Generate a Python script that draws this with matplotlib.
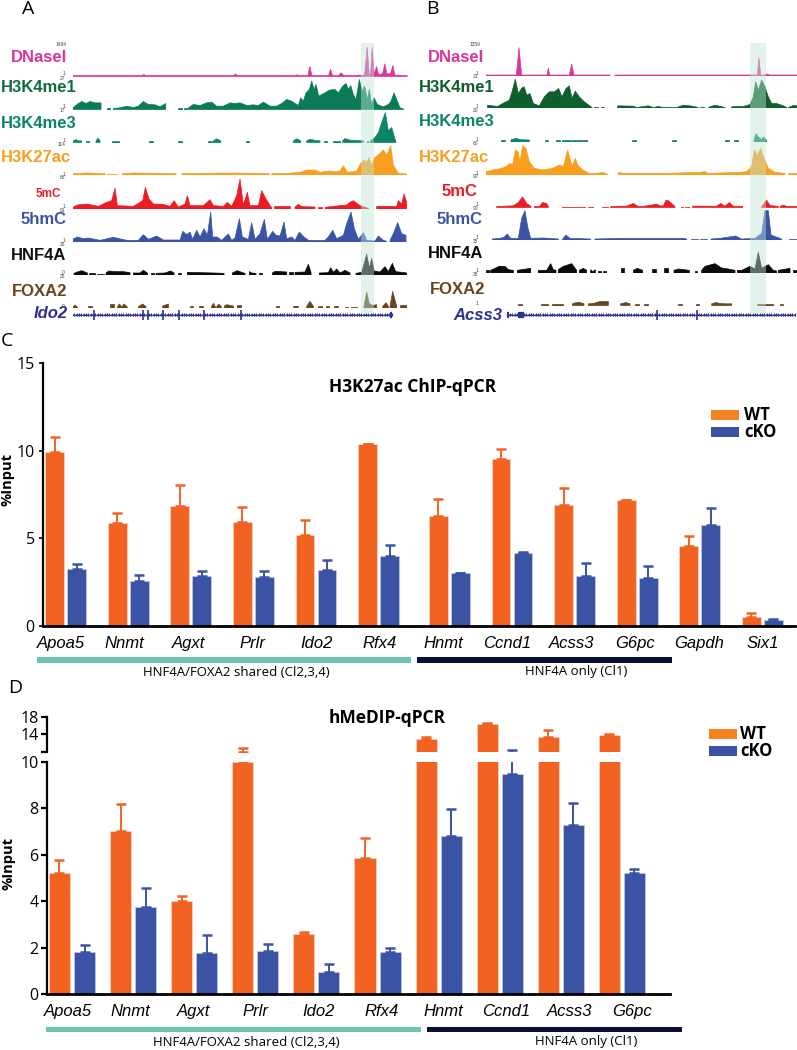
import numpy as np
import matplotlib
matplotlib.use("Agg")
import matplotlib.pyplot as plt
from matplotlib.patches import Rectangle

W, H = 797, 1050
n = np.nan

plt.rcParams["font.family"] = ["Open Sans", "DejaVu Sans"]

# browser tracks, panel A: position along the locus / signal height
a_dnase_x = [218, 425, 430, 435, 450, 455, 460, 700, 705, 710, 850, 855, 860, 884, 890, 895, 922, 928, 934, 984, 990, 996, 1014, 1022, 1030, 1092, 1100, 1106, 1110, 1115, 1121, 1128, 1134, 1146, 1153, 1159, 1170, 1177, 1183, 1220]
a_dnase_h = [3, 3, 6, 3, 3, 4, 3, 3, 8, 3, 3, 4, 3, 3, 5, 3, 3, 30, 3, 3, 22, 3, 3, 11, 3, 4, 88, 6, 6, 88, 6, 30, 6, 8, 38, 8, 8, 33, 4, 3]
a_me1_x = [218, 232, 245, 258, 270, 285, 303, n, 320, 330, n, 340, 360, 380, 400, 415, 430, 445, 465, 480, 497, n, 535, 545, n, 553, 560, n, 565, 580, 600, 620, 635, 650, 670, 690, 705, 720, 740, 760, 775, 790, 810, 830, 845, 860, 875, 885, 895, 902, 910, 918, 928, 935, 942, 948, 956, 965, 975, 988, 1005, 1015, 1028, 1038, 1046, 1052, 1060, 1068, 1078, 1086, 1094, 1102, 1108, 1115, 1122, 1132, 1150, 1165, 1173, 1182, 1190, 1200, 1210]
a_me1_h = [4, 16, 24, 18, 24, 20, 20, n, 6, 6, n, 3, 5, 10, 6, 10, 24, 15, 14, 8, 18, n, 4, 4, n, 4, 4, n, 5, 15, 12, 20, 22, 10, 10, 20, 18, 20, 12, 14, 12, 22, 10, 10, 18, 30, 25, 18, 12, 35, 25, 50, 60, 85, 60, 75, 40, 45, 50, 58, 60, 50, 70, 78, 60, 72, 45, 30, 90, 55, 70, 30, 60, 15, 35, 15, 8, 15, 25, 50, 30, 5, 2]
a_me3_x = [220, 228, 234, 245, n, 258, 268, n, 288, 294, 300, n, 335, 358, n, 448, 458, n, 534, 545, n, 625, 635, n, 640, 650, 662, n, 738, 748, n, 880, 890, 902, n, 920, 932, 945, 960, n, 972, 982, n, 1000, 1020, n, 1028, 1035, 1050, 1070, 1090, n, 1100, 1105, n, 1110, 1125, 1135, 1145, 1156, 1165, 1175, 1185, 1188]
a_me3_h = [5, 9, 5, 5, n, 5, 5, n, 5, 13, 5, n, 5, 5, n, 5, 5, n, 5, 5, n, 5, 5, n, 5, 11, 5, n, 5, 5, n, 5, 11, 5, n, 5, 10, 6, 5, n, 5, 5, n, 5, 5, n, 5, 12, 7, 6, 5, n, 5, 5, n, 4, 15, 30, 60, 90, 35, 45, 10, 2]
a_k27_x = [218, 260, 315, n, 322, 352, n, 367, 400, 460, 528, n, 546, 620, 700, 808, n, 815, 860, 900, 920, 945, 960, 985, 1005, 1020, 1030, 1042, 1070, 1082, 1092, 1100, 1107, 1115, 1122, 1140, 1150, 1160, 1172, 1180, 1195, 1220]
a_k27_h = [4, 6, 4, n, 4, 4, n, 4, 6, 5, 4, n, 4, 5, 6, 4, n, 4, 5, 8, 15, 15, 8, 12, 10, 12, 28, 8, 12, 35, 45, 38, 52, 30, 50, 65, 75, 60, 88, 30, 5, 3]
a_5mc_x = [218, 232, 260, 295, 320, 335, 345, 352, 400, 428, 436, 447, 460, 490, 510, 522, 535, 555, 562, 570, 610, 630, 640, 670, 682, 695, 710, 720, 730, 742, 750, 775, 785, 798, 815, n, 822, 870, n, 885, 895, 905, 945, n, 955, 965, n, 975, 1020, 1040, 1050, 1060, 1080, 1105, n, 1130, 1190, 1195, 1205, 1212, 1220]
a_5mc_h = [5, 12, 15, 8, 20, 25, 62, 10, 8, 25, 65, 30, 15, 14, 8, 25, 6, 15, 40, 10, 10, 28, 10, 8, 20, 8, 40, 90, 12, 50, 10, 10, 55, 30, 3, n, 8, 8, n, 6, 14, 7, 6, n, 7, 7, n, 5, 10, 12, 20, 25, 10, 2, n, 8, 8, 25, 15, 45, 20]
a_5hmc_x = [218, 232, 250, 265, 300, 340, 380, 415, 430, 445, 470, 490, 540, 548, 560, 570, 578, 590, 600, 612, 622, 632, 638, 652, 665, 685, 695, 705, 718, 727, 745, 755, 765, 780, 793, 802, 818, 828, 840, 852, 860, 875, 885, 898, 912, 925, 975, 985, 998, 1010, 1030, 1040, 1053, 1063, 1075, 1090, 1100, 1125, 1135, 1150, 1160, n, 1170, 1180, 1193, 1205, 1218]
a_5hmc_h = [8, 15, 10, 12, 5, 14, 5, 5, 22, 8, 18, 6, 6, 32, 22, 30, 8, 35, 15, 40, 20, 90, 15, 15, 5, 24, 5, 12, 70, 15, 8, 58, 8, 25, 68, 8, 32, 20, 18, 60, 10, 15, 5, 30, 15, 5, 5, 15, 35, 10, 20, 55, 90, 40, 8, 28, 5, 3, 18, 5, 2, n, 5, 25, 58, 25, 20]
a_hnf_x = [222, 232, 245, 255, 262, n, 268, 285, n, 292, 312, n, 318, 326, 345, 370, 390, n, 400, 420, 430, 442, n, 452, 462, n, 468, 495, 512, 522, n, 535, 542, n, 562, 600, 640, 672, n, 697, 712, 725, 735, n, 748, 755, 768, n, 778, 787, n, 817, 825, 860, n, 868, 878, n, 885, 915, 925, 933, n, 958, 985, 992, 1000, 1010, 1020, 1035, 1050, n, 1068, 1085, 1100, 1108, 1115, 1122, 1140, 1155, 1165, 1177, 1187, 1205, 1220]
a_hnf_h = [5, 9, 13, 9, 6, n, 5, 5, n, 4, 4, n, 6, 12, 10, 10, 7, n, 6, 6, 14, 6, n, 5, 5, n, 5, 6, 12, 6, n, 5, 5, n, 8, 7, 6, 5, n, 6, 13, 8, 5, n, 10, 6, 5, n, 5, 5, n, 6, 11, 9, n, 10, 10, n, 8, 9, 32, 8, n, 6, 7, 22, 8, 18, 6, 14, 6, n, 5, 8, 62, 20, 50, 12, 9, 25, 10, 35, 10, 8, 6]
a_fox_x = [218, 225, 232, n, 264, 276, n, 331, 341, n, 352, 358, 365, 372, 382, n, 415, 428, 438, n, 488, 505, n, 570, 580, n, 596, 608, n, 634, 640, 646, n, 650, 656, 664, n, 673, 680, 700, n, 712, 722, n, 828, 838, n, 880, 895, n, 920, 930, 940, n, 955, 965, n, 978, 988, n, 1003, 1013, n, 1035, 1045, n, 1052, 1070, n, 1092, 1100, 1108, 1118, 1130, n, 1148, 1158, 1165, n, 1170, 1178, 1190, n, 1200, 1220]
a_fox_h = [2, 9, 2, n, 5, 5, n, 12, 12, n, 3, 12, 3, 12, 3, n, 4, 12, 4, n, 6, 12, n, 6, 6, n, 5, 5, n, 4, 14, 4, n, 4, 12, 4, n, 6, 10, 6, n, 10, 10, n, 5, 5, n, 5, 5, n, 5, 20, 5, n, 5, 5, n, 5, 5, n, 5, 5, n, 4, 4, n, 4, 4, n, 5, 48, 12, 8, 10, n, 5, 16, 5, n, 5, 50, 5, n, 9, 9]

# browser tracks, panel B
b_dnase_x = [258, 349, 357, 365, 441, 445, 449, 508, 515, 522, 630, n, 645, 1072, 1077, 1082, 1095, 1100, 1110, 1191]
b_dnase_h = [3, 3, 85, 3, 3, 24, 3, 3, 36, 3, 3, n, 3, 3, 55, 3, 3, 6, 3, 3]
b_me1_x = [263, 278, 293, 308, 328, 336, 346, 355, 366, 373, 380, 390, 400, 418, 433, 448, 463, 476, 486, 498, 508, 516, 526, 538, 553, 576, n, 583, 593, n, 603, 613, n, 653, 700, 710, 745, 760, 775, 790, 830, 850, 870, 895, n, 900, 912, n, 925, 945, 975, n, 995, 1010, 1030, 1050, 1060, 1067, 1075, 1085, 1095, 1105, 1115, 1130, 1150, 1160, n, 1165, 1180, 1191]
b_me1_h = [10, 8, 6, 15, 25, 50, 88, 45, 62, 65, 40, 45, 15, 8, 35, 50, 50, 60, 35, 60, 68, 30, 52, 35, 20, 3, n, 4, 4, n, 4, 4, n, 8, 7, 3, 8, 3, 6, 3, 3, 10, 8, 3, n, 4, 4, n, 3, 10, 3, n, 5, 6, 6, 12, 35, 80, 55, 85, 65, 35, 15, 15, 8, 3, n, 3, 9, 8]
b_me3_x = [303, 316, n, 333, 350, 360, 388, n, 435, 445, n, 467, 480, n, 487, 512, n, 515, 530, n, 535, 545, n, 550, 560, n, 697, 708, n, 816, 828, n, 975, 986, n, 1003, 1015, n, 1062, 1068, 1075, 1085, 1090, 1100]
b_me3_h = [7, 7, n, 7, 11, 7, 6, n, 7, 7, n, 7, 7, n, 6, 6, n, 6, 6, n, 6, 6, n, 6, 6, n, 7, 7, n, 7, 7, n, 6, 6, n, 6, 6, n, 5, 25, 15, 8, 15, 5]
b_k27_x = [258, 278, 298, 318, 330, 338, 346, 354, 360, 368, 378, 388, 403, 428, 458, 478, 490, 503, 510, 516, 526, 533, 548, 568, 588, 608, 623, n, 655, 670, 800, 900, 915, 925, 1020, 1040, 1055, 1063, 1072, 1082, 1092, 1105, 1125, 1155, n, 1165, 1191]
b_k27_h = [10, 15, 18, 25, 35, 30, 75, 70, 40, 88, 80, 40, 20, 15, 20, 30, 25, 75, 50, 25, 50, 30, 15, 5, 4, 8, 2, n, 8, 5, 5, 8, 10, 5, 8, 10, 25, 75, 60, 80, 50, 20, 8, 5, n, 5, 5]
b_5mc_x = [290, 340, 355, 368, 380, 393, n, 403, 418, 428, 440, 445, n, 485, 530, n, 535, 555, n, 565, 578, n, 607, 625, n, 632, 680, 700, 715, 735, 770, 780, 790, 798, 806, 825, n, 843, 850, n, 855, 868, n, 878, 950, 962, 975, 988, 1000, 1028, n, 1085, 1100, 1110, 1135, n, 1140, 1150, 1160, 1191]
b_5mc_h = [3, 5, 15, 32, 12, 3, n, 3, 3, 15, 12, 3, n, 2, 2, n, 3, 3, n, 3, 3, n, 3, 3, n, 3, 4, 12, 3, 4, 10, 5, 5, 22, 20, 3, n, 3, 3, n, 3, 3, n, 4, 4, 12, 4, 15, 4, 3, n, 3, 22, 6, 3, n, 3, 7, 3, 3]
b_5hmc_x = [277, 300, 312, 322, 332, 355, 365, 375, 383, 392, 430, 475, n, 488, 498, 510, 572, n, 585, 670, 730, 850, 860, n, 873, 895, n, 900, 922, n, 933, 960, 1007, 1025, 1065, 1085, 1095, 1105, 1113, 1145, n, 1168, 1191]
b_5hmc_h = [3, 5, 8, 18, 5, 5, 65, 88, 40, 5, 6, 3, n, 3, 15, 5, 3, n, 3, 5, 5, 5, 3, n, 3, 3, n, 3, 3, n, 3, 5, 12, 3, 5, 20, 88, 88, 15, 3, n, 3, 3]
b_hnf_x = [258, 268, n, 272, 285, 297, 315, 325, 340, n, 352, 392, n, 415, 440, 452, 460, 468, n, 475, 490, 515, 530, n, 538, 550, 560, n, 572, 578, 586, n, 595, 603, n, 610, 618, n, 662, 672, n, 700, 712, 728, n, 757, 768, n, 793, 803, n, 822, 835, 868, n, 885, 892, n, 905, 915, 945, 965, 985, 1005, n, 1012, 1025, 1040, 1050, 1065, 1075, 1085, 1105, 1120, 1130, n, 1135, 1170, n, 1178, 1191]
b_hnf_h = [8, 8, n, 8, 14, 20, 20, 10, 8, n, 8, 14, n, 8, 8, 28, 10, 8, n, 10, 20, 28, 8, n, 8, 14, 8, n, 10, 4, 10, n, 6, 6, n, 6, 6, n, 14, 14, n, 8, 14, 8, n, 12, 12, n, 14, 14, n, 8, 12, 8, n, 6, 6, n, 8, 20, 28, 15, 12, 8, n, 8, 8, 15, 20, 12, 62, 14, 25, 8, 6, n, 8, 14, n, 8, 8]
b_fox_x = [353, 365, n, 422, 445, n, 457, 488, n, 517, 530, 540, 552, n, 565, 580, 600, 625, n, 662, 678, 690, n, 705, 717, n, 732, 745, n, 835, 846, n, 888, 898, n, 935, 948, 960, 975, 995, n, 1072, 1120, n, 1140, 1150]
b_fox_h = [5, 5, n, 5, 5, n, 5, 5, n, 5, 9, 9, 5, n, 5, 6, 12, 12, n, 5, 9, 5, n, 5, 5, n, 5, 5, n, 5, 5, n, 5, 5, n, 5, 9, 6, 5, 5, n, 5, 5, n, 5, 5]

track_names = ["DNaseI", "H3K4me1", "H3K4me3", "H3K27ac", "5mC", "5hmC", "HNF4A", "FOXA2"]
track_colors = ["#d9359b", "#0b7a58", "#0b8468", "#f8a01e", "#ec1c24", "#3a53a4", "#0a0a0a", "#6a431c"]
b_track_colors = ["#d9359b", "#0f5f2e", "#0b8468", "#f8a01e", "#ec1c24", "#3a53a4", "#0a0a0a", "#6a431c"]
a_label_colors = ["#d9359b", "#0f6e3e", "#0b8468", "#f8a01e", "#ec1c24", "#3a53a4", "#111111", "#6a431c"]

a_exons = [283, 430, 445, 490, 538, 612, 723]
b_exons = [772, 890]

# qPCR, panel C
c_genes = ["Apoa5", "Nnmt", "Agxt", "Prlr", "Ido2", "Rfx4", "Hnmt", "Ccnd1", "Acss3", "G6pc", "Gapdh", "Six1"]
c_wt = [9.95, 5.9, 6.85, 5.95, 5.2, 10.38, 6.25, 9.55, 6.92, 7.17, 4.57, 0.53]
c_wt_top = [10.78, 6.47, 8.03, 6.8, 6.03, 10.4, 7.26, 10.08, 7.88, 7.17, 5.15, 0.72]
c_ko = [3.24, 2.58, 2.86, 2.78, 3.22, 3.98, 3.02, 4.19, 2.85, 2.76, 5.75, 0.32]
c_ko_top = [3.56, 2.93, 3.16, 3.14, 3.77, 4.63, 3.05, 4.2, 3.62, 3.41, 6.75, 0.42]

# qPCR, panel D
d_genes = ["Apoa5", "Nnmt", "Agxt", "Prlr", "Ido2", "Rfx4", "Hnmt", "Ccnd1", "Acss3", "G6pc"]
d_wt = [5.2, 7.03, 4.0, 10.0, 2.58, 5.86, 12.87, 16.26, 13.3, 13.77]
d_wt_top = [5.77, 8.2, 4.23, 10.98, 2.68, 6.7, 13.47, 16.6, 14.96, 14.07]
d_ko = [1.82, 3.74, 1.76, 1.85, 0.95, 1.82, 6.8, 9.47, 7.28, 5.23]
d_ko_top = [2.12, 4.56, 2.56, 2.15, 1.29, 2.0, 7.95, 10.45, 8.22, 5.39]

ORANGE = "#f26322"
BLUE = "#3a53a4"

fig = plt.figure(figsize=(W / 100, H / 100), dpi=100)


def px_axes(x0, y0, x1, y1, **kw):
    # axes from reference pixel box, y measured from the top
    return fig.add_axes([x0 / W, 1 - y1 / H, (x1 - x0) / W, (y1 - y0) / H], **kw)


def track(x0, x1, base, xs, hs, color, xlim):
    ax = px_axes(x0, base - 32, x1, base)
    ax.fill_between(xs, 0, hs, color=color, lw=0.5)
    ax.set_xlim(*xlim)
    ax.set_ylim(0, 96)
    ax.axis("off")
    return ax


a_tracks = [(a_dnase_x, a_dnase_h), (a_me1_x, a_me1_h), (a_me3_x, a_me3_h), (a_k27_x, a_k27_h),
            (a_5mc_x, a_5mc_h), (a_5hmc_x, a_5hmc_h), (a_hnf_x, a_hnf_h), (a_fox_x, a_fox_h)]
a_bases = [76, 109.5, 142.5, 175, 209, 242, 275, 308]
for (xs, hs), c, b in zip(a_tracks, track_colors, a_bases):
    track(72.7, 406.7, b, xs, hs, c, (218, 1220))

b_tracks = [(b_dnase_x, b_dnase_h), (b_me1_x, b_me1_h), (b_me3_x, b_me3_h), (b_k27_x, b_k27_h),
            (b_5mc_x, b_5mc_h), (b_5hmc_x, b_5hmc_h), (b_hnf_x, b_hnf_h), (b_fox_x, b_fox_h)]
b_bases = [76, 108.5, 142, 175, 207.5, 240, 273, 305.5]
for (xs, hs), c, b in zip(b_tracks, b_track_colors, b_bases):
    track(486, 797, b, xs, hs, c, (258, 1191))


def gene_track(x0, x1, xlim, start, end, exons, thick):
    ax = px_axes(x0, 308, x1, 322)
    ax.plot([start, end], [0, 0], color="#2e3192", lw=1)
    marks = np.arange(start, end, 7)
    ax.plot(marks, np.zeros(len(marks)), ls="", marker=4, ms=2.2, color="#2e3192", mew=0)
    ax.plot(exons, np.zeros(len(exons)), ls="", marker="|", ms=7, mew=1.2, color="#2e3192")
    for t0, t1 in thick:
        ax.plot([t0, t1], [0, 0], color="#2e3192", lw=4.5, solid_capstyle="butt")
    ax.set_xlim(*xlim)
    ax.set_ylim(-1, 1)
    ax.axis("off")


gene_track(72.7, 406.7, (218, 1220), 220, 1175, a_exons, [(1170, 1176)])
gene_track(486, 797, (258, 1191), 320, 1185, b_exons, [(320, 326), (355, 372)])


def bars(ax, xs, wt, wt_top, ko, ko_top, off, width, capsize):
    for vals, tops, o, c in [(wt, wt_top, -off, ORANGE), (ko, ko_top, off, BLUE)]:
        pos = np.asarray(xs) + o
        ax.bar(pos, vals, width, color=c, edgecolor="#f3d9cc" if c == ORANGE else "#c4cce4", lw=0.5)
        err = np.asarray(tops) - np.asarray(vals)
        ax.errorbar(pos, vals, yerr=[np.zeros(len(vals)), err], fmt="none", ecolor=c,
                    elinewidth=1.4, capsize=capsize, capthick=1.8)


# panel C
ax_c = px_axes(43, 363, 795, 626)
c_pos = np.arange(len(c_genes)) + 0.13 * (np.arange(len(c_genes)) >= 6)
bars(ax_c, c_pos, c_wt, c_wt_top, c_ko, c_ko_top, 0.175, 0.3, 3.4)
ax_c.set_xlim(-0.361, 11.65)
ax_c.set_ylim(0, 15)
ax_c.set_yticks([0, 5, 10, 15])
ax_c.set_xticks(np.arange(len(c_genes)) * 1.02 - 0.08)
ax_c.set_xticklabels(c_genes, style="italic", fontsize=12, family=["Liberation Sans"])
ax_c.tick_params(axis="x", length=0, pad=7)
ax_c.tick_params(axis="y", length=3, width=1.2, labelsize=11.5, pad=3)
ax_c.spines[["top", "right"]].set_visible(False)
ax_c.spines["left"].set_linewidth(1.6)
ax_c.spines["bottom"].set_linewidth(2)

# panel D, broken axis
ax_d = px_axes(47, 761.7, 669.6, 994)
ax_u = px_axes(47, 716.7, 669.6, 751.7)
d_pos = np.arange(len(d_genes))
d_xlim = (-0.409, 9.78)
for ax in (ax_d, ax_u):
    bars(ax, d_pos, d_wt, d_wt_top, d_ko, d_ko_top, 0.205, 0.345, 3.4)
    ax.set_xlim(*d_xlim)
    ax.spines[["top", "right"]].set_visible(False)
    ax.spines["left"].set_linewidth(1.6)
    ax.tick_params(axis="y", length=4, width=1.6, labelsize=11.5, pad=2)
ax_d.set_ylim(0, 10)
ax_u.set_ylim(10.08, 18)
ax_d.set_yticks([0, 2, 4, 6, 8, 10])
ax_u.set_yticks([10.08, 14, 18])
ax_u.set_yticklabels(["", "14", "18"])
ax_u.spines["bottom"].set_visible(False)
ax_u.set_xticks([])
ax_d.spines["bottom"].set_linewidth(2)
ax_d.set_xticks(d_pos * 1.025 - 0.065)
ax_d.set_xticklabels(d_genes, style="italic", fontsize=12, family=["Liberation Sans"])
ax_d.tick_params(axis="x", length=0, pad=7)

# overlay for labels, highlight bands, group bars, legends
ov = fig.add_axes([0, 0, 1, 1], facecolor="none")
ov.set_xlim(0, W)
ov.set_ylim(H, 0)
ov.axis("off")

ov.add_patch(Rectangle((361, 43), 13, 270, color="#bfe6d6", alpha=0.45, lw=0))
ov.add_patch(Rectangle((750, 43), 16, 270, color="#bfe6d6", alpha=0.45, lw=0))

a_label_xy = [(67, 58, "right"), (1, 88, "left"), (1, 123, "left"), (1, 158, "left"),
              (61, 194, "right"), (67, 220, "right"), (66, 255, "right"), (67, 291, "right")]
b_label_xy = [(484, 57, "right"), (419, 87, "left"), (419, 121, "left"), (419, 157, "left"),
              (477, 192, "right"), (483, 219, "right"), (483, 253, "right"), (485, 289, "right")]
for name, c, (x, y, ha) in zip(track_names, a_label_colors, a_label_xy):
    ov.text(x, y, name, color=c, ha=ha, va="center", fontsize=8.5 if name == "5mC" else 12,
            fontweight="semibold", family=["Liberation Sans"])
for name, c, (x, y, ha) in zip(track_names, b_track_colors, b_label_xy):
    ov.text(x, y, name, color=c, ha=ha, va="center", fontsize=12,
            fontweight="semibold", family=["Liberation Sans"])
ov.text(68, 314, "Ido2", color="#2e3192", ha="right", va="center", fontsize=12,
        style="italic", fontweight="bold", family=["Liberation Sans"])
ov.text(502, 315, "Acss3", color="#2e3192", ha="right", va="center", fontsize=12,
        style="italic", fontweight="bold", family=["Liberation Sans"])

for letter, x, y in [("A", 28, 9), ("B", 432, 9), ("C", 7, 341), ("D", 15, 688)]:
    ov.text(x, y, letter, ha="center", va="center", fontsize=14)

a_scale = [("1484", 67, 45), ("1", 65, 73.5), ("27", 65, 78), ("1", 65, 107), ("17", 65, 110.5),
           ("1", 65, 140), ("114", 65, 144), ("1", 65, 174), ("66", 65, 177.5), ("1", 65, 206),
           ("61", 65, 210), ("1", 65, 240), ("25", 65, 244), ("0", 65, 272.5), ("25", 65, 276),
           ("0", 65, 306)]
b_scale = [("1359", 480, 45), ("1", 478, 73.5), ("21", 478, 77), ("1", 478, 106), ("20", 478, 110),
           ("1", 478, 139.5), ("60", 478, 143.5), ("1", 478, 173.5), ("90", 478, 177), ("1", 478, 204.5),
           ("90", 478, 209), ("1", 478, 237.5), ("25", 478, 241.5), ("1", 478, 270), ("25", 478, 274.5),
           ("1", 478, 303.5)]
for t, x, y in a_scale + b_scale:
    ov.text(x, y, t, ha="right", va="center", fontsize=3.5, color="#444444",
            family=["Liberation Sans"])

ov.text(413, 387, "H3K27ac ChIP-qPCR", ha="center", va="center", fontsize=12.5, fontweight="bold")
ov.text(387, 718, "hMeDIP-qPCR", ha="center", va="center", fontsize=12.5, fontweight="bold")
ov.text(8, 480, "%Input", rotation=90, ha="center", va="center", fontsize=10.5, fontweight="bold")
ov.text(9, 863, "%Input", rotation=90, ha="center", va="center", fontsize=10.5, fontweight="bold")

for x0, x1, y, c in [(37, 411.5, 657, "#6fc5b1"), (417, 672, 657, "#0c1035"),
                     (46, 421, 1026.7, "#6fc5b1"), (427, 682, 1026.7, "#0c1035")]:
    ov.add_patch(Rectangle((x0, y), x1 - x0, 5.5, color=c, lw=0))
for x, y, t in [(236, 672, "HNF4A/FOXA2 shared (Cl2,3,4)"), (576, 672, "HNF4A only (Cl1)"),
                (246, 1042, "HNF4A/FOXA2 shared (Cl2,3,4)"), (586, 1042, "HNF4A only (Cl1)")]:
    ov.text(x, y, t, ha="center", va="center", fontsize=9.5)

for x0, xt, y1, y2 in [(710.6, 744, 410, 426.7), (709, 740, 729, 745.7)]:
    ov.add_patch(Rectangle((x0, y1), 28, 10, color="#f58220", lw=0))
    ov.add_patch(Rectangle((x0, y2), 28, 10, color=BLUE, lw=0))
    ov.text(xt, y1 + 5, "WT", va="center", fontsize=12, fontweight="bold")
    ov.text(xt, y2 + 5, "cKO", va="center", fontsize=12, fontweight="bold")

fig.savefig("out.png", dpi=100)
